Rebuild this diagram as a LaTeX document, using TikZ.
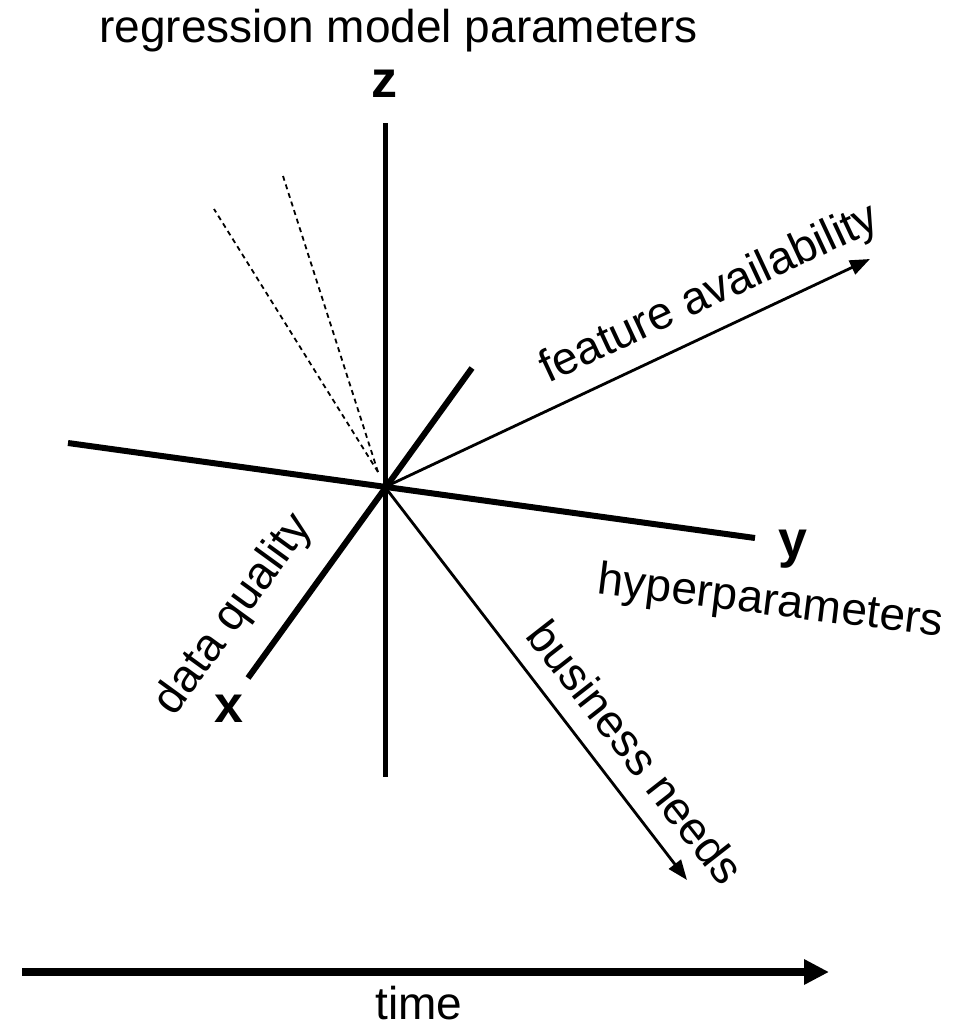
\documentclass[tikz,border=0pt]{standalone}
\usepackage{fontspec}
\setmainfont{Liberation Sans}
\usetikzlibrary{arrows.meta}
\begin{document}
\begin{tikzpicture}[x=1pt,y=-1pt,
  lbl/.style={inner sep=0pt,font=\fontsize{46}{50}\selectfont},
  axlbl/.style={inner sep=0pt,font=\fontsize{52}{56}\selectfont\bfseries},
  axisline/.style={line width=6pt},
  thinarrow/.style={line width=2.8pt,-{Triangle[length=20pt,width=15pt]}},
  dashline/.style={line width=1.8pt,dash pattern=on 5pt off 4pt}]
\fill[white] (0,0) rectangle (959,1029);
\useasboundingbox (0,0) rectangle (959,1029);
% coordinates
\coordinate (O) at (385,487);
\coordinate (zt) at (385,123);
\coordinate (zb) at (385,777);
\coordinate (yl) at (68,443);
\coordinate (yr) at (755,538);
\coordinate (xu) at (472,368);
\coordinate (xl) at (248,678);
\coordinate (fa) at (870,259);
\coordinate (bn) at (687,880);
\coordinate (d1) at (214,209);
\coordinate (d2) at (283,176);
\coordinate (ds) at (378,472);
\coordinate (t0) at (22,972);
\coordinate (t1) at (829,972);
% axes
\draw[line width=5pt] (zt) -- (zb);
\draw[axisline] (yl) -- (yr);
\draw[axisline] (xu) -- (xl);
\draw[dashline] (ds) -- (d1);
\draw[dashline] (ds) -- (d2);
\draw[thinarrow] (O) -- (fa);
\draw[thinarrow] (O) -- (bn);
\draw[line width=8pt,-{Triangle[length=25pt,width=24pt]}] (t0) -- (t1);
% labels
\node[lbl,anchor=base] (title) at (398.5,42) {regression model parameters};
\node[axlbl,anchor=base] (zl) at (384,97) {z};
\node[axlbl,anchor=base] (ylab) at (793,557) {y};
\node[axlbl,anchor=base] (xlab) at (229,722) {x};
\node[lbl,anchor=base,rotate=-7] (hyp) at (769,615) {hyperparameters};
\node[lbl,rotate=54] (dq) at (234,615) {data quality};
\node[lbl,rotate=25] (feat) at (710,295) {feature availability};
\node[lbl,rotate=-52] (bus) at (636,752) {business needs};
\node[lbl,anchor=base] (time) at (419,1019) {time};
\end{tikzpicture}
\end{document}
